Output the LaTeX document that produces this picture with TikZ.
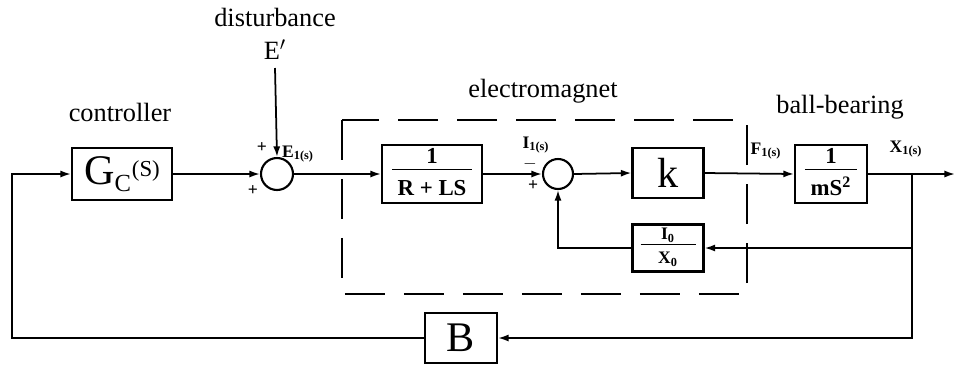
\documentclass[tikz,border=0pt]{standalone}
\usepackage{fontspec}
\setmainfont{Liberation Serif}
\usetikzlibrary{arrows.meta}

% frazione con linea lunga
\newcommand{\blkfrac}[3]{\begin{tabular}{@{}c@{}}\makebox[#1]{#2}\\[-1pt]\hline\rule{0pt}{2.4ex}\makebox[#1]{#3}\end{tabular}}

\tikzset{
  blk/.style={draw, line width=1.2pt, inner sep=0pt, align=center},
  sumnode/.style={draw, circle, line width=1.2pt, minimum size=0.64cm, inner sep=0pt},
  sigarrow/.style={line width=1pt, -{Latex[length=6pt,width=4pt]}},
  lbl/.style={font=\fontsize{15}{18}\selectfont},
  sublbl/.style={font=\fontsize{10}{12}\selectfont\bfseries, inner sep=1pt}
}

\begin{document}
\begin{tikzpicture}[x=0.02cm, y=-0.02cm]
    % Riquadro esterno
    \useasboundingbox (0,0) rectangle (955,366);

    % Blocchi
    \node[blk, minimum width=2cm, minimum height=1.04cm, font=\fontsize{24}{26}\selectfont] (gc) at (122,174) {G\textsubscript{\fontsize{14}{16}\selectfont C}\raisebox{0.4ex}{\fontsize{13}{15}\selectfont(S)}};
    \node[sumnode] (s1) at (277,174) {};
    \node[blk, minimum width=2cm, minimum height=1.04cm, font=\fontsize{13}{15}\selectfont\bfseries] (em) at (432,174) {\blkfrac{1.6cm}{1}{R + LS}};
    \node[sumnode, minimum size=0.6cm] (s2) at (558,174) {};
    \node[blk, minimum width=1.42cm, minimum height=1cm, font=\fontsize{24}{26}\selectfont] (kb) at (668,173) {k};
    \node[blk, minimum width=1.42cm, minimum height=0.84cm, inner sep=1pt, font=\fontsize{10}{11}\selectfont\bfseries] (lx) at (668,248) {\blkfrac{1.1cm}{I\textsubscript{0}}{X\textsubscript{0}}};
    \node[blk, minimum width=1.44cm, minimum height=1.04cm, font=\fontsize{13}{15}\selectfont\bfseries] (ms) at (831,174) {\blkfrac{1.05cm}{1}{mS\textsuperscript{2}}};
    \node[blk, minimum width=1.44cm, minimum height=1cm, font=\fontsize{24}{26}\selectfont] (bb) at (461,338) {B};

    % Punti ausiliari
    \coordinate (dist) at (275,68);
    \coordinate (br) at (912,174);
    \coordinate (out) at (955,174);

    % Linee di segnale
    \draw[sigarrow] (bb.west) -- (12,338) -- (12,174) -- (gc.west);
    \draw[sigarrow] (gc.east) -- (s1.west);
    \draw[sigarrow] (dist) -- (s1.north);
    \draw[sigarrow] (s1.east) -- (em.west);
    \draw[sigarrow] (em.east) -- (s2.west);
    \draw[sigarrow] (s2.east) -- (kb.west);
    \draw[sigarrow] (kb.east) -- (ms.west);
    \draw[sigarrow] (ms.east) -- (out);
    \draw[sigarrow] (br) |- (lx.east);
    \draw[sigarrow] (lx.west) -| (s2.south);
    \draw[sigarrow] (br) |- (bb.east);

    % Riquadro tratteggiato dell'elettromagnete
    \draw[line width=1.2pt, dash pattern=on 0.8cm off 0.38cm] (342,120) rectangle (747,294);

    % Scritte
    \node[lbl] (tdist) at (275,17) {disturbance};
    \node[lbl] (te) at (275,50) {E$'$};
    \node[lbl] (tctrl) at (120,112) {controller};
    \node[lbl] (telm) at (543,91) {electromagnet};
    \node[lbl] (tball) at (840,107) {ball-bearing};
    \node[sublbl] (le) at (298,154) {E\textsubscript{1(s)}};
    \node[sublbl] (li) at (536,145) {I\textsubscript{1(s)}};
    \node[sublbl] (lf) at (766,151) {F\textsubscript{1(s)}};
    \node[sublbl] (lxo) at (906,149) {X\textsubscript{1(s)}};

    % Segni
    \node[sublbl] (p1) at (262,148) {+};
    \node[sublbl] (p2) at (253,191) {+};
    \node[sublbl] (m3) at (530,164) {$-$};
    \node[sublbl] (p4) at (533,186) {+};
\end{tikzpicture}
\end{document}
